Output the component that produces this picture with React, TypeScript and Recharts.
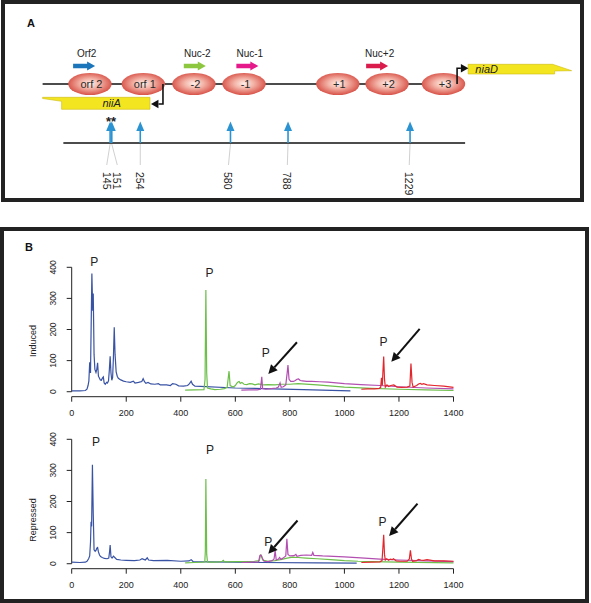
import React from 'react';
import {
  ComposedChart,
  LineChart,
  Line,
  Scatter,
  XAxis,
  YAxis,
  ReferenceLine,
  ReferenceArea,
  ReferenceDot,
  Label,
} from 'recharts';

const FONT = '"Liberation Sans", Arial, Helvetica, sans-serif';

// ---------- Panel A: niiA-niaD intergenic region, positions in bp ----------
const nucLabels = ['orf 2', 'orf 1', '-2', '-1', '+1', '+2', '+3'];
const nucPositions = [72, 265, 448, 629, 968, 1146, 1350];

const tagLabels = ['Orf2', 'Nuc-2', 'Nuc-1', 'Nuc+2'];
const tagPositions = [51, 451, 641, 1110];

const siteLabels = ['145', '151', '254', '580', '788', '1229'];
const sitePositions = [145, 151, 254, 580, 788, 1229];
const starredSites = [145, 151];

const dnaSpan = [-99, 1399];
const mapSpan = [-24, 1428];

const geneNames = ['niiA', 'niaD'];
const geneFrom = [-99, 1439];
const geneTo = [289, 1813];
const promoterPositions = [336, 1399];

// ---------- Panel B: cleavage profiles (x = bp, y = signal) ----------
const xTicks = [0, 200, 400, 600, 800, 1000, 1200, 1400];
const yTicks = [0, 100, 200, 300, 400];

const blueInduced = [
  [0, 3], [30, 3], [50, 4], [56, 8], [60, 20], [63, 35], [66, 95], [69, 60], [74, 380], [77, 260],
  [79, 316], [82, 120], [85, 72], [89, 62], [92, 72], [95, 93], [98, 50], [101, 45], [105, 38],
  [109, 37], [113, 45], [116, 48], [119, 28], [123, 24], [128, 30], [131, 28], [135, 35], [138, 70],
  [141, 114], [144, 60], [147, 37], [150, 45], [153, 110], [156, 207], [159, 120], [163, 64],
  [167, 50], [171, 43], [180, 38], [190, 34], [200, 32], [215, 30], [226, 34], [232, 28], [245, 30],
  [257, 33], [262, 42], [267, 32], [272, 27], [280, 30], [290, 25], [305, 24], [318, 26], [325, 22],
  [348, 22], [362, 20], [370, 26], [382, 24], [392, 19], [410, 18], [425, 20], [432, 26], [438, 34],
  [443, 24], [452, 18], [600, 12], [700, 10], [850, 7], [1022, 3],
];
const greenInduced = [
  [416, 5], [450, 6], [485, 7], [489, 40], [492, 327], [495, 60], [498, 12], [510, 9], [525, 7],
  [545, 8], [560, 10], [570, 14], [577, 66], [581, 20], [592, 15], [600, 20], [605, 27], [610, 31],
  [614, 33], [618, 27], [624, 30], [632, 24], [642, 23], [652, 26], [662, 25], [672, 22], [685, 25],
  [700, 22], [720, 23], [745, 22], [770, 24], [800, 24], [830, 26], [900, 22], [1000, 15],
  [1100, 11], [1200, 8], [1300, 6], [1400, 4],
];
const purpleInduced = [
  [622, 5], [650, 6], [680, 6], [692, 8], [697, 48], [700, 10], [712, 8], [732, 10], [750, 12],
  [758, 15], [764, 28], [768, 14], [776, 16], [785, 22], [790, 60], [793, 86], [797, 40], [803, 33],
  [813, 33], [820, 36], [826, 40], [832, 41], [838, 36], [846, 35], [862, 33], [880, 33], [910, 32],
  [940, 31], [1000, 26], [1060, 23], [1130, 20], [1200, 16], [1300, 12], [1400, 9],
];
const redInduced = [
  [1062, 8], [1085, 9], [1110, 9], [1128, 11], [1133, 14], [1136, 45], [1139, 20], [1141, 60],
  [1144, 113], [1147, 40], [1150, 15], [1156, 22], [1162, 17], [1170, 20], [1181, 22], [1193, 15],
  [1210, 14], [1230, 15], [1240, 18], [1244, 91], [1248, 30], [1252, 15], [1265, 20], [1272, 25],
  [1278, 27], [1284, 24], [1290, 26], [1303, 22], [1330, 20], [1364, 18], [1400, 14],
];

const blueRepressed = [
  [0, 5], [30, 4], [50, 5], [56, 8], [62, 16], [66, 25], [69, 70], [71, 135], [73, 120], [76, 318],
  [79, 160], [82, 45], [86, 40], [89, 43], [92, 50], [95, 52], [98, 38], [102, 28], [106, 23],
  [112, 20], [120, 17], [130, 16], [136, 18], [139, 40], [141, 60], [144, 22], [148, 18], [153, 24],
  [158, 20], [165, 14], [180, 12], [200, 11], [230, 10], [250, 12], [258, 16], [264, 14], [270, 12],
  [277, 19], [282, 12], [300, 10], [350, 11], [400, 8], [430, 9], [438, 13], [445, 7], [500, 6],
  [700, 4], [900, 3], [1045, 2],
];
const greenRepressed = [
  [416, 3], [450, 4], [480, 5], [488, 6], [490, 40], [492, 272], [495, 30], [498, 5], [520, 5],
  [540, 6], [552, 8], [556, 11], [560, 6], [600, 7], [640, 7], [670, 8], [688, 10], [692, 28],
  [696, 26], [700, 12], [720, 8], [745, 10], [770, 14], [790, 18], [810, 21], [830, 20], [860, 18],
  [900, 16], [950, 13], [1000, 10], [1050, 8], [1100, 7], [1200, 5], [1400, 3],
];
const purpleRepressed = [
  [624, 4], [660, 5], [685, 6], [690, 26], [694, 28], [698, 20], [705, 8], [720, 7], [735, 10],
  [742, 15], [746, 42], [750, 12], [758, 15], [762, 20], [768, 14], [775, 18], [785, 25], [789, 80],
  [793, 30], [800, 25], [815, 26], [822, 30], [826, 24], [840, 27], [860, 28], [880, 27], [884, 36],
  [888, 27], [920, 25], [1000, 22], [1060, 19], [1130, 15], [1200, 12], [1300, 9], [1400, 7],
];
const redRepressed = [
  [1062, 4], [1100, 5], [1130, 6], [1138, 10], [1141, 50], [1144, 93], [1147, 30], [1150, 12],
  [1155, 16], [1162, 11], [1168, 15], [1175, 13], [1180, 16], [1190, 9], [1205, 8], [1230, 8],
  [1238, 15], [1242, 43], [1246, 15], [1250, 8], [1265, 10], [1272, 14], [1280, 12], [1290, 11],
  [1303, 13], [1330, 9], [1364, 9], [1400, 8],
];

// "P" marks and pointer arrows, in data units of each plot
const inducedPeaks = [[83, 418], [505, 381], [712, 123], [1143, 161]];
const inducedPointers = [[826, 159, 721, 57], [1276, 202, 1172, 96]];
const repressedPeaks = [[89, 391], [507, 367], [721, 70], [1140, 134]];
const repressedPointers = [[828, 139, 721, 32], [1268, 193, 1164, 89]];

// ---------- styles / layout ----------
const BLUE = '#3953a4';
const GREEN = '#6dbf4a';
const PURPLE = '#b24fb1';
const RED = '#e3262c';
const SITE_BLUE = '#2b93d1';
const YELLOW = '#f4e521';
const tagColors = ['#1b75bb', '#8dc63f', '#e5198a', '#d91c4b'];
const siteLabelNudge = [-3.4, 5.5, 0, -2, -0.7, -0.8];
const LANE = { tag: 66, dna: 84, site: 143 };
const geneLanes = [[97.3, 109.3], [64.3, 74]];
const geneLabelDx = [69, 18.5];
const promoterStyle = [
  { drop: 20, reach: 12 },
  { drop: -15.7, reach: 11.3 },
];

const toPts = (pairs: number[][]) => pairs.map(([x, y]) => ({ x, y }));

const renderNucleosome = (p: any) => (
  <g>
    <ellipse cx={p.cx} cy={p.cy} rx={21.7} ry={11} fill="url(#nucFill)" />
    <text x={p.cx + 1.5} y={p.cy} textAnchor="middle" dominantBaseline="central"
      fontSize={11} fontFamily={FONT} fill="#2a2a2a">{p.payload.label}</text>
  </g>
);

const renderTag = (p: any) => {
  const { cx, cy } = p;
  const pts = [
    [cx - 11, cy - 2.2], [cx + 3, cy - 2.2], [cx + 3, cy - 4.6], [cx + 11, cy],
    [cx + 3, cy + 4.6], [cx + 3, cy + 2.2], [cx - 11, cy + 2.2],
  ].map((q) => q.join(',')).join(' ');
  return (
    <g>
      <polygon points={pts} fill={p.payload.color} />
      <text x={cx + 2.5} y={cy - 12.5} textAnchor="middle" dominantBaseline="central"
        fontSize={10} fontFamily={FONT} fill="#222">{p.payload.label}</text>
    </g>
  );
};

const renderSite = (p: any) => {
  const { cx, cy } = p;
  const lx = cx + p.payload.dx;
  const ty = cy + 29;
  return (
    <g>
      <line x1={cx} y1={cy + 1} x2={lx} y2={cy + 22} stroke="#c4c4c4" strokeWidth={0.8} />
      <line x1={cx} y1={cy} x2={cx} y2={cy - 13} stroke={SITE_BLUE} strokeWidth={1.6} />
      <polygon points={`${cx},${cy - 21.5} ${cx - 4},${cy - 12} ${cx + 4},${cy - 12}`} fill={SITE_BLUE} />
      <text x={lx} y={ty} transform={`rotate(90 ${lx} ${ty})`} dominantBaseline="central"
        fontSize={10.5} fontFamily={FONT} fill="#222">{p.payload.label}</text>
    </g>
  );
};

const renderStars = (p: any) => (
  <text x={p.cx} y={p.cy - 17} textAnchor="middle" fontSize={13} fontWeight="bold"
    fontFamily={FONT} fill="#222">**</text>
);

const renderPromoter = (p: any) => {
  const { cx, cy } = p;
  const { drop, reach, sign } = p.payload;
  const ye = cy + drop;
  const base = cx + sign * (reach - 7.5);
  const tip = cx + sign * reach;
  return (
    <g>
      <path d={`M${cx},${cy} V${ye} H${base}`} fill="none" stroke="#111" strokeWidth={1.6} />
      <polygon points={`${tip},${ye} ${base},${ye - 4.2} ${base},${ye + 4.2}`} fill="#111" />
    </g>
  );
};

const renderGene = (i: number) => (p: any) => {
  const { x, y, width: w, height: h } = p;
  const tip = 19;
  const pts = i === 0
    ? [[x, y], [x + w, y], [x + w, y + h], [x + tip, y + h], [x + tip, y + 4], [x, y + 1.2]]
    : [[x, y], [x + w - tip, y], [x + w, y + h - 3.3], [x + w - tip + 2, y + h - 3],
      [x + w - tip + 2, y + h], [x, y + h]];
  return (
    <g>
      <polygon points={pts.map((q) => q.join(',')).join(' ')} fill={YELLOW} stroke="#cdbb12" strokeWidth={0.6} />
      <text x={x + geneLabelDx[i]} y={y + h / 2} textAnchor="middle" dominantBaseline="central"
        fontSize={11} fontStyle="italic" fontFamily={FONT} fill="#222">{geneNames[i]}</text>
    </g>
  );
};

const renderPointer = (p: any) => {
  const { x1, y1, x2, y2 } = p;
  const a = Math.atan2(y2 - y1, x2 - x1);
  const len = 9;
  const half = 4.5;
  const bx = x2 - len * Math.cos(a);
  const by = y2 - len * Math.sin(a);
  const nx = -Math.sin(a) * half;
  const ny = Math.cos(a) * half;
  return (
    <g>
      <line x1={x1} y1={y1} x2={bx} y2={by} stroke="#111" strokeWidth={2} />
      <polygon points={`${x2},${y2} ${bx + nx},${by + ny} ${bx - nx},${by - ny}`} fill="#111" />
    </g>
  );
};

const renderP = (p: any) => (
  <text x={p.cx} y={p.cy} textAnchor="middle" dominantBaseline="central" fontSize={12}
    fontFamily={FONT} fill="#222">P</text>
);

const YTick = (props: any) => {
  const { x, y, payload } = props;
  const cx = x - 12;
  return (
    <text x={cx} y={y} transform={`rotate(-90 ${cx} ${y})`} textAnchor="middle"
      dominantBaseline="central" fontSize={8.5} fontFamily={FONT} fill="#222">{payload.value}</text>
  );
};

const yTitle = (text: string, dy: number) => (props: any) => {
  const vb = props.viewBox || { x: 31.7, y: 0, width: 40, height: 0 };
  const x = vb.x + 1.5;
  const y = vb.y + vb.height / 2 + dy;
  return (
    <text x={x} y={y} transform={`rotate(-90 ${x} ${y})`} textAnchor="middle"
      dominantBaseline="central" fontSize={9} fontFamily={FONT} fill="#222">{text}</text>
  );
};

function PanelA() {
  const nucData = nucPositions.map((x, i) => ({ x, y: LANE.dna, label: nucLabels[i] }));
  const tagData = tagPositions.map((x, i) => ({ x, y: LANE.tag, label: tagLabels[i], color: tagColors[i] }));
  const siteData = sitePositions.map((x, i) => ({ x, y: LANE.site, label: siteLabels[i], dx: siteLabelNudge[i] }));
  const starX = starredSites.reduce((s, v) => s + v, 0) / starredSites.length;
  const promoterData = promoterPositions.map((x, i) => ({
    x, y: LANE.dna, ...promoterStyle[i], sign: i === 0 ? -1 : 1,
  }));
  return (
    <ComposedChart width={591} height={200} margin={{ top: 0, right: 0, bottom: 0, left: 0 }}>
      <defs>
        <radialGradient id="nucFill" cx="50%" cy="48%" r="55%">
          <stop offset="0%" stopColor="#fdeee8" />
          <stop offset="40%" stopColor="#f4b4a8" />
          <stop offset="100%" stopColor="#d5483e" />
        </radialGradient>
      </defs>
      <XAxis type="number" dataKey="x" domain={[-253, 1883]} hide />
      <YAxis type="number" dataKey="y" domain={[0, 200]} reversed hide />
      <Line data={dnaSpan.map((x) => ({ x, y: LANE.dna }))} dataKey="y" stroke="#111"
        strokeWidth={1.5} dot={false} activeDot={false} isAnimationActive={false} />
      <Line data={mapSpan.map((x) => ({ x, y: LANE.site }))} dataKey="y" stroke="#111"
        strokeWidth={1.5} dot={false} activeDot={false} isAnimationActive={false} />
      {geneNames.map((g, i) => (
        <ReferenceArea key={g} x1={geneFrom[i]} x2={geneTo[i]} y1={geneLanes[i][0]} y2={geneLanes[i][1]}
          ifOverflow="visible" shape={renderGene(i)} />
      ))}
      <Scatter data={nucData} dataKey="y" shape={renderNucleosome} isAnimationActive={false} />
      <Scatter data={promoterData} dataKey="y" shape={renderPromoter} isAnimationActive={false} />
      <Scatter data={tagData} dataKey="y" shape={renderTag} isAnimationActive={false} />
      <Scatter data={siteData} dataKey="y" shape={renderSite} isAnimationActive={false} />
      <Scatter data={[{ x: starX, y: LANE.site }]} dataKey="y" shape={renderStars} isAnimationActive={false} />
    </ComposedChart>
  );
}

type Trace = { data: number[][]; color: string };

function TracePanel(props: {
  top: number; title: string; titleDy: number; traces: Trace[]; peaks: number[][]; pointers: number[][];
}) {
  const { top, title, titleDy, traces, peaks, pointers } = props;
  return (
    <div style={{ position: 'absolute', left: 0, top }}>
      <LineChart width={591} height={196} margin={{ top: 35.3, right: 137.5, bottom: 1.3, left: 31.7 }}>
        <XAxis type="number" dataKey="x" domain={[0, 1400]} ticks={xTicks} tickSize={5} tickMargin={8}
          height={30} stroke="#222" tick={{ fontSize: 9, fill: '#222', fontFamily: FONT }} />
        <YAxis type="number" domain={[-16, 400]} ticks={yTicks} width={40} axisLine={false}
          tickSize={5} stroke="#222" tick={<YTick />}>
          <Label content={yTitle(title, titleDy)} />
        </YAxis>
        <ReferenceLine segment={[{ x: 0, y: 0 }, { x: 0, y: 400 }]} stroke="#222" ifOverflow="visible" />
        {traces.map((t, i) => (
          <Line key={i} data={toPts(t.data)} dataKey="y" type="linear" stroke={t.color}
            strokeWidth={1.2} dot={false} activeDot={false} isAnimationActive={false} />
        ))}
        {peaks.map(([x, y], i) => (
          <ReferenceDot key={`p${i}`} x={x} y={y} r={0} ifOverflow="visible" shape={renderP} />
        ))}
        {pointers.map(([xa, ya, xb, yb], i) => (
          <ReferenceLine key={`a${i}`} segment={[{ x: xa, y: ya }, { x: xb, y: yb }]}
            ifOverflow="visible" shape={renderPointer} />
        ))}
      </LineChart>
    </div>
  );
}

export default function App() {
  return (
    <div style={{ position: 'absolute', left: 0, top: 0, width: 591, height: 603, background: '#fff', overflow: 'hidden', fontFamily: FONT }}>
      <div style={{ position: 'absolute', left: 1, top: 0, width: 583, height: 202, border: '4px solid #222', boxSizing: 'border-box' }} />
      <div style={{ position: 'absolute', left: 0, top: 227, width: 589, height: 376, border: '4px solid #222', boxSizing: 'border-box' }} />
      <div style={{ position: 'absolute', left: 27, top: 18, fontSize: 11, lineHeight: '11px', fontWeight: 'bold', color: '#111' }}>A</div>
      <div style={{ position: 'absolute', left: 25, top: 241.5, fontSize: 11, lineHeight: '11px', fontWeight: 'bold', color: '#111' }}>B</div>
      <div style={{ position: 'absolute', left: 0, top: 0 }}>
        <PanelA />
      </div>
      <TracePanel top={232} title="Induced" titleDy={9}
        traces={[
          { data: blueInduced, color: BLUE },
          { data: greenInduced, color: GREEN },
          { data: purpleInduced, color: PURPLE },
          { data: redInduced, color: RED },
        ]}
        peaks={inducedPeaks} pointers={inducedPointers} />
      <TracePanel top={403.7} title="Repressed" titleDy={16}
        traces={[
          { data: blueRepressed, color: BLUE },
          { data: greenRepressed, color: GREEN },
          { data: purpleRepressed, color: PURPLE },
          { data: redRepressed, color: RED },
        ]}
        peaks={repressedPeaks} pointers={repressedPointers} />
    </div>
  );
}
